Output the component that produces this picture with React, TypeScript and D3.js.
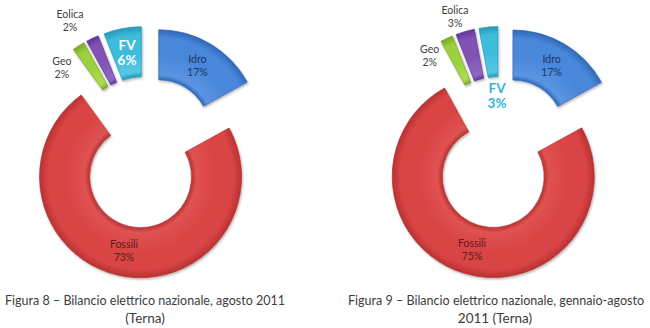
import React from "react";
import * as d3 from "d3";

const categories = ["Idro", "Fossili", "Geo", "Eolica", "FV"];
const valuesAug = [17, 73, 2, 2, 6];
const valuesJanAug = [17, 75, 2, 3, 3];
const captionAug = ["Figura 8 – Bilancio elettrico nazionale, agosto 2011", "(Terna)"];
const captionJanAug = ["Figura 9 – Bilancio elettrico nazionale, gennaio-agosto", "2011 (Terna)"];

const sliceColors = ["#4a87da", "#d94444", "#9cd03c", "#8052b4", "#3cbcdc"];
const darkColors = ["#3068b8", "#b83232", "#78a82a", "#60399a", "#2898b8"];
const lightColors = ["#5b95e2", "#e05252", "#aedb52", "#9068c2", "#55c8e4"];

type Place = { kind: "centroid" } | { kind: "polar"; a: number; r: number };
type LabelStyle = { fill: string; size: number; weight: string; gap: number };

const W = 650;
const H = 328;
const R = 101;
const r0 = 51;
const EXPLODE = 25;

const normal = (fill: string): LabelStyle => ({ fill, size: 10.5, weight: "normal", gap: 13 });
const bold = (fill: string): LabelStyle => ({ fill, size: 13.5, weight: "bold", gap: 15 });

interface ChartCfg {
  id: string;
  cx: number;
  cy: number;
  values: number[];
  places: Place[];
  styles: LabelStyle[];
  caption: string[];
  capX: number[];
  capLen: (number | undefined)[];
  capSize: number[];
}

const charts: ChartCfg[] = [
  {
    id: "a",
    cx: 146,
    cy: 152.3,
    values: valuesAug,
    places: [
      { kind: "centroid" },
      { kind: "centroid" },
      { kind: "polar", a: 315, r: 119 },
      { kind: "polar", a: 330, r: 152 },
      { kind: "centroid" },
    ],
    styles: [normal("#1e3560"), normal("#5a1c1c"), normal("#404040"), normal("#404040"), bold("#ffffff")],
    caption: captionAug,
    capX: [145, 145],
    capLen: [280, undefined],
    capSize: [13, 13.5],
  },
  {
    id: "b",
    cx: 500.2,
    cy: 152.5,
    values: valuesJanAug,
    places: [
      { kind: "centroid" },
      { kind: "centroid" },
      { kind: "polar", a: 324, r: 120 },
      { kind: "polar", a: 341.6, r: 143 },
      { kind: "polar", a: 356.8, r: 57 },
    ],
    styles: [normal("#1e3560"), normal("#5a1c1c"), normal("#404040"), normal("#404040"), bold("#33b4d6")],
    caption: captionJanAug,
    capX: [496, 495],
    capLen: [296, undefined],
    capSize: [12.5, 13.5],
  },
];

const rad = (deg: number) => (deg * Math.PI) / 180;

function Donut({ cfg }: { cfg: ChartCfg }) {
  const pie = d3.pie<number>().sort(null).value((d) => d);
  const arcs = pie(cfg.values);
  const arc = d3.arc<d3.PieArcDatum<number>>().innerRadius(r0).outerRadius(R);
  const offset = (a: d3.PieArcDatum<number>) => {
    const mid = (a.startAngle + a.endAngle) / 2;
    return [cfg.cx + EXPLODE * Math.sin(mid), cfg.cy - EXPLODE * Math.cos(mid)];
  };
  return (
    <g>
      <defs>
        {arcs.map((a, i) => (
          <radialGradient
            key={i}
            id={`g-${cfg.id}-${i}`}
            gradientUnits="userSpaceOnUse"
            cx={0}
            cy={0}
            r={R}
          >
            <stop offset={r0 / R} stopColor={darkColors[i]} />
            <stop offset={(r0 + 5) / R} stopColor={lightColors[i]} />
            <stop offset={0.75} stopColor={sliceColors[i]} />
            <stop offset={0.92} stopColor={sliceColors[i]} />
            <stop offset={1} stopColor={darkColors[i]} />
          </radialGradient>
        ))}
      </defs>
      {arcs.map((a, i) => {
        const [ox, oy] = offset(a);
        return (
          <path
            key={i}
            d={arc(a) || ""}
            transform={`translate(${ox},${oy})`}
            fill={`url(#g-${cfg.id}-${i})`}
            stroke={darkColors[i]}
            strokeWidth={0.7}
            filter="url(#shadow)"
          />
        );
      })}
      {arcs.map((a, i) => {
        const p = cfg.places[i];
        let x: number, y: number;
        if (p.kind === "centroid") {
          const [ox, oy] = offset(a);
          const [c0, c1] = arc.centroid(a);
          x = ox + c0;
          y = oy + c1;
        } else {
          x = cfg.cx + p.r * Math.sin(rad(p.a));
          y = cfg.cy - p.r * Math.cos(rad(p.a));
        }
        const s = cfg.styles[i];
        return (
          <text
            key={i}
            textAnchor="middle"
            fontFamily="Lato, 'Open Sans', sans-serif"
            fontSize={s.size}
            fontWeight={s.weight}
            fill={s.fill}
          >
            <tspan x={x} y={y - s.gap / 2 + s.size * 0.36}>
              {categories[i]}
            </tspan>
            <tspan x={x} y={y + s.gap / 2 + s.size * 0.36}>
              {`${cfg.values[i]}%`}
            </tspan>
          </text>
        );
      })}
      {cfg.caption.map((line, j) => (
        <text
          key={`c${j}`}
          x={cfg.capX[j]}
          y={305 + j * 18}
          textAnchor="middle"
          fontFamily="Lato, 'Open Sans', sans-serif"
          fontSize={cfg.capSize[j]}
          fill="#3c3c3c"
          textLength={cfg.capLen[j]}
          lengthAdjust={cfg.capLen[j] ? "spacingAndGlyphs" : undefined}
        >
          {line}
        </text>
      ))}
    </g>
  );
}

export default function App() {
  return (
    <svg
      width={W}
      height={H}
      viewBox={`0 0 ${W} ${H}`}
      style={{ position: "absolute", left: 0, top: 0, background: "#ffffff", display: "block" }}
    >
      <defs>
        <filter id="shadow" x="-20%" y="-20%" width="140%" height="140%">
          <feDropShadow dx="1" dy="1.5" stdDeviation="1.2" floodColor="#000" floodOpacity="0.3" />
        </filter>
      </defs>
      <rect width={W} height={H} fill="#ffffff" />
      {charts.map((c) => (
        <Donut key={c.id} cfg={c} />
      ))}
    </svg>
  );
}
